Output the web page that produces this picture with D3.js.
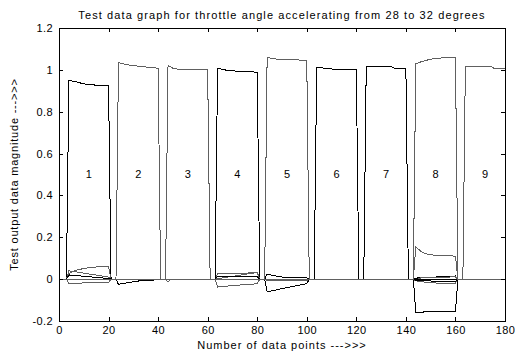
<!DOCTYPE html>
<html>
<head>
<meta charset="utf-8">
<script src="https://cdn.jsdelivr.net/npm/d3@7"></script>
<style>
body { margin: 0; background: #fff; }
text { font-family: Arial, "Liberation Sans", sans-serif; fill: #000; }
</style>
</head>
<body>
<div id="main"></div>
<script>
// tick values
var xTicks = [0, 20, 40, 60, 80, 100, 120, 140, 160, 180];
var yTicks = [-0.2, 0, 0.2, 0.4, 0.6, 0.8, 1, 1.2];

// segment numbers, placed at the middle of each "high" block
var segLabels = ["1", "2", "3", "4", "5", "6", "7", "8", "9"];
var segStart = [4, 24, 44, 64, 84, 104, 124, 144, 164];
var segEnd = [20, 40, 60, 80, 100, 120, 140, 160, 180];

// the nine output channels, [data point, magnitude]
var ch1 = [[0,0],[3,0],[4,0.95],[6.5,0.944],[10,0.933],[13,0.928],[20,0.926],[21,0],[23,0],[24,-0.025],[28,-0.016],[32,-0.009],[40,-0.003],[41,0],[143,0],[144,0.005],[160,0.015],[161,0],[180,0]];
var ch2 = [[0,0],[3,0],[4,0.027],[6,0.038],[8,0.046],[12,0.055],[16,0.059],[20,0.062],[21,0],[23,0],[24,1.035],[27,1.025],[33,1.016],[40,1.008],[41,0],[43,0],[44,-0.013],[45,0],[63,0],[64,-0.038],[68,-0.033],[74,-0.027],[80,-0.022],[81,0],[143,0],[144,-0.005],[146,0.006],[160,0.011],[161,0],[180,0]];
var ch3 = [[0,0],[3,0],[4,0.04],[20,0.01],[21,0],[43,0],[44,1.02],[46,1.008],[49,1.0],[60,1.0],[61,0],[63,0],[64,0.027],[80,0.03],[81,0],[83,0],[84,-0.006],[100,-0.006],[101,0],[143,0],[144,-0.008],[150,-0.018],[160,-0.02],[161,0],[180,0]];
var ch4 = [[0,0],[3,0],[4,0.02],[20,0.003],[21,0],[63,0],[64,1.008],[68,0.997],[74,0.992],[80,0.989],[81,0],[83,0],[84,0.024],[88,0.014],[92,0.007],[100,0.006],[101,0],[143,0],[144,-0.007],[160,-0.012],[161,0],[180,0]];
var ch5 = [[0,0],[3,0],[4,-0.022],[10,-0.018],[20,-0.015],[21,0],[63,0],[64,0.002],[80,0.032],[81,0],[83,0],[84,1.059],[88,1.051],[96,1.048],[100,1.044],[101,0],[180,0]];
var ch6 = [[0,0],[63,0],[64,0.013],[80,0.012],[81,0],[83,0],[84,-0.061],[92,-0.04],[100,-0.022],[101,0],[103,0],[104,1.013],[107,1.008],[111,1.003],[120,1.003],[121,0],[180,0]];
var ch7 = [[0,0],[123,0],[124,1.016],[134,1.015],[135.5,1.008],[140,1.008],[141,0],[143,0],[144,-0.158],[160,-0.153],[161,0],[180,0]];
var ch8 = [[0,0],[143,0],[144,1.029],[146.5,1.04],[150,1.051],[152.5,1.056],[160,1.059],[161,0],[180,0]];
var ch9 = [[0,0],[143,0],[144,0.155],[146,0.133],[148,0.121],[151,0.115],[160,0.11],[161,0],[163,0],[164,1.016],[174.5,1.015],[175.5,1.008],[180,1.006]];

var series = [ch1, ch2, ch3, ch4, ch5, ch6, ch7, ch8, ch9];

var W = 515, H = 356;
var margin = {top: 28, right: 10, bottom: 35, left: 59};
var width = W - margin.left - margin.right;
var height = H - margin.top - margin.bottom;

var svg = d3.select("#main")
	.append("svg")
	.attr("width", W)
	.attr("height", H);

var g = svg.append("g")
	.attr("transform", "translate(" + margin.left + "," + margin.top + ")");

var x = d3.scaleLinear().domain([0, 180]).range([0, width]);
var y = d3.scaleLinear().domain([-0.2, 1.2]).range([height, 0]);

var fmt = d => String(+d.toFixed(1));

// data lines first, the box goes on top
var lineColor = ["#000", "#606060", "#606060", "#000", "#606060", "#000", "#000", "#606060", "#606060"];
var line = d3.line().x(d => x(d[0])).y(d => y(d[1]));

g.append("g")
	.attr("fill", "none")
	.attr("stroke-width", 1)
	.attr("shape-rendering", "crispEdges")
	.selectAll("path")
	.data(series)
	.join("path")
		.attr("stroke", (d, i) => lineColor[i])
		.attr("d", line);

// box with inward ticks on all sides (matlab style)
function styleAxis(sel) {
	sel.select(".domain").remove();
	sel.selectAll("line").attr("stroke", "#000").attr("shape-rendering", "crispEdges");
	sel.selectAll("text")
		.attr("font-size", 11)
		.attr("letter-spacing", "0.4px")
		.attr("font-family", "Arial, 'Liberation Sans', sans-serif");
}

g.append("g")
	.attr("transform", "translate(0," + height + ")")
	.call(d3.axisBottom(x).tickValues(xTicks).tickFormat(fmt).tickSize(-4).tickPadding(5))
	.call(styleAxis);

g.append("g")
	.call(d3.axisTop(x).tickValues(xTicks).tickFormat("").tickSize(-4))
	.call(styleAxis);

g.append("g")
	.call(d3.axisLeft(y).tickValues(yTicks).tickFormat(fmt).tickSize(-4).tickPadding(6))
	.call(styleAxis);

g.append("g")
	.attr("transform", "translate(" + width + ",0)")
	.call(d3.axisRight(y).tickValues(yTicks).tickFormat("").tickSize(-4))
	.call(styleAxis);

g.append("rect")
	.attr("x", 0).attr("y", 0)
	.attr("width", width).attr("height", height)
	.attr("fill", "none")
	.attr("stroke", "#000")
	.attr("shape-rendering", "crispEdges");

// segment numbers
g.append("g")
	.attr("font-size", 11)
	.attr("text-anchor", "middle")
	.selectAll("text")
	.data(segLabels)
	.join("text")
		.attr("x", (d, i) => x((segStart[i] + segEnd[i]) / 2))
		.attr("y", y(0.5))
		.attr("dy", "0.35em")
		.text(d => d);

// title and axis labels
svg.append("text")
	.attr("x", margin.left + width / 2)
	.attr("y", 19)
	.attr("text-anchor", "middle")
	.attr("font-size", 11)
	.attr("letter-spacing", "1.1px")
	.text("Test data graph for throttle angle accelerating from 28 to 32 degrees");

svg.append("text")
	.attr("x", margin.left + width / 2)
	.attr("y", 349)
	.attr("text-anchor", "middle")
	.attr("font-size", 11)
	.attr("letter-spacing", "1px")
	.text("Number of data points --->>>");

svg.append("text")
	.attr("transform", "translate(18," + (margin.top + height / 2) + ") rotate(-90)")
	.attr("text-anchor", "middle")
	.attr("font-size", 11)
	.attr("letter-spacing", "0.8px")
	.text("Test output data magnitude --->>>");
</script>
</body>
</html>
